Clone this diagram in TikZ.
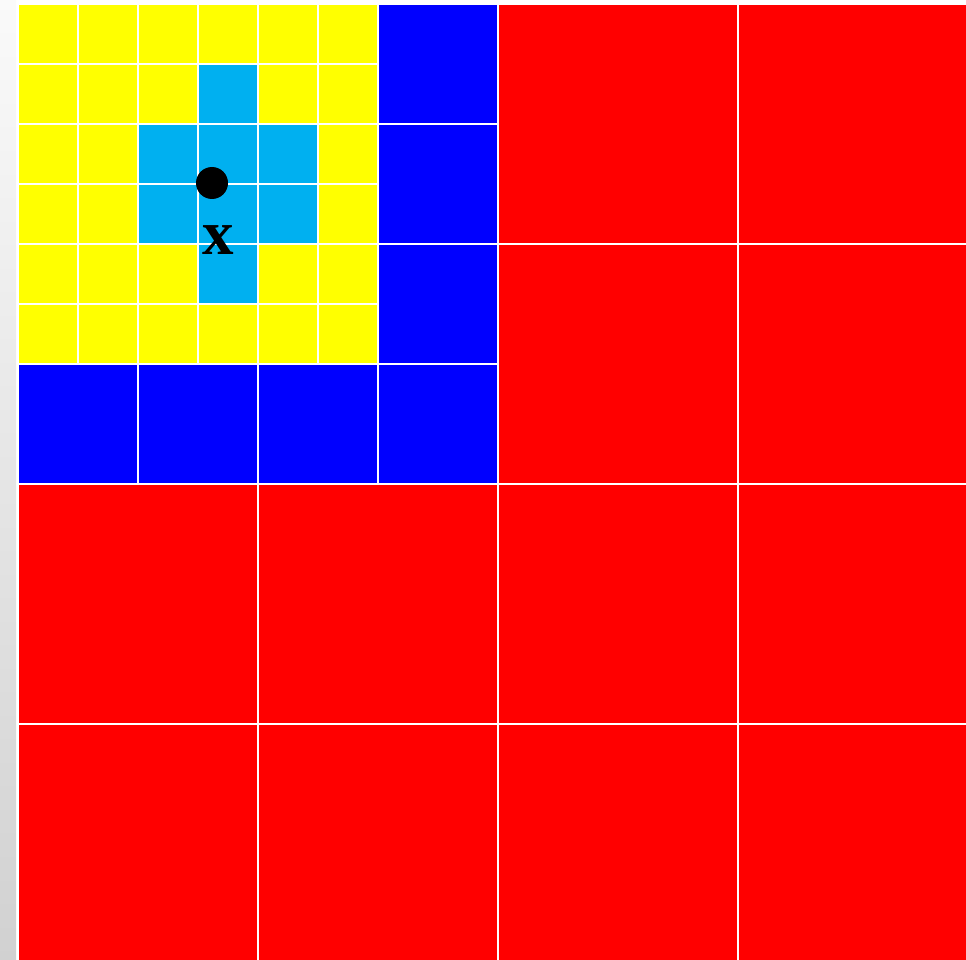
\documentclass[tikz,border=0pt]{standalone}
\usepackage{fontspec}
\newfontfamily\xfont{Liberation Serif}
\definecolor{cellyellow}{RGB}{255,255,0}
\definecolor{cellcyan}{RGB}{0,176,240}
\definecolor{cellblue}{RGB}{0,0,255}
\definecolor{cellred}{RGB}{255,0,0}
\tikzset{
  cell/.style={draw=white, line width=2pt},
}
\begin{document}
\begin{tikzpicture}[x=1pt,y=-1pt]
\useasboundingbox (0,0) rectangle (966,960);
\fill[white] (0,0) rectangle (966,960);
\shade[top color=black!2, bottom color=black!18] (0,0) rectangle (16,960);
\begin{scope}
\clip (0,0) rectangle (966,960);
% yellow small cells
\foreach \i in {0,...,5}{
  \foreach \j in {0,...,5}{
    \filldraw[cell, fill=cellyellow] ({18+60*\i},{4+60*\j}) rectangle ++(60,60);
  }
}
% cyan cells
\foreach \i/\j in {3/1,2/2,3/2,4/2,2/3,3/3,4/3,3/4}{
  \filldraw[cell, fill=cellcyan] ({18+60*\i},{4+60*\j}) rectangle ++(60,60);
}
% blue medium cells
\foreach \j in {0,1,2}{
  \filldraw[cell, fill=cellblue] (378,{4+120*\j}) rectangle ++(120,120);
}
\foreach \i in {0,1,2,3}{
  \filldraw[cell, fill=cellblue] ({18+120*\i},364) rectangle ++(120,120);
}
% red large cells
\foreach \i in {0,1}{
  \foreach \j in {0,1}{
    \filldraw[cell, fill=cellred] ({498+240*\i},{4+240*\j}) rectangle ++(240,240);
  }
}
\foreach \i in {0,1,2,3}{
  \foreach \j in {0,1}{
    \filldraw[cell, fill=cellred] ({18+240*\i},{484+240*\j}) rectangle ++(240,240);
  }
}
\end{scope}
\node[circle, fill=black, inner sep=0pt, minimum size=32pt] (dot) at (212,183) {};
\node[inner sep=0pt, font=\xfont\bfseries\fontsize{63}{63}\selectfont] (xlabel) at (218,240.5) {x};
\end{tikzpicture}
\end{document}
